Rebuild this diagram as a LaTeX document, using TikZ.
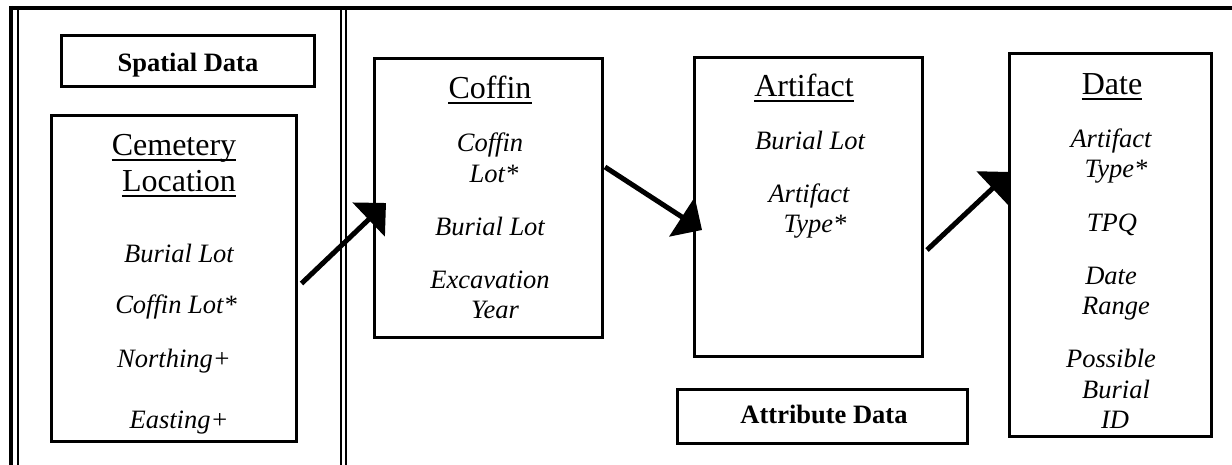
\documentclass[tikz,border=0pt]{standalone}
\usepackage{fontspec}
\setmainfont{Liberation Serif}
\usetikzlibrary{arrows.meta,calc}
\begin{document}
\begin{tikzpicture}[x=1pt,y=-1pt,
  box/.style={draw,line width=3pt,inner sep=0pt},
  it/.style={font=\fontsize{26.5}{30}\selectfont\itshape,inner sep=0pt,anchor=base},
  ttl/.style={font=\fontsize{32}{36}\selectfont,inner sep=0pt,anchor=base},
  bld/.style={font=\fontsize{26.5}{30}\selectfont\bfseries,inner sep=0pt,anchor=base},
  frameline/.style={line width=2pt},
  arr/.style={line width=5pt,-{Triangle[length=24pt,width=46pt]}},
  ul/.style={line width=1.5pt}]
\useasboundingbox (0,0) rectangle (1232,465);
% frame
\draw[line width=4.5pt] (9,8) -- (1232,8);
\draw[line width=4pt] (11,6) -- (11,465);
\draw[frameline] (18.3,10) -- (18.3,465);
\draw[frameline] (341,10) -- (341,465);
\draw[frameline] (346,10) -- (346,465);
% boxes
\node[box,minimum width=253pt,minimum height=51pt] (spatial) at (188,61) {};
\node[box,minimum width=245pt,minimum height=326pt] (cem) at (174,278.5) {};
\node[box,minimum width=228pt,minimum height=279pt] (coffin) at (488.5,198) {};
\node[box,minimum width=228pt,minimum height=298.5pt] (artifact) at (808.5,206.75) {};
\node[box,minimum width=202pt,minimum height=383pt] (date) at (1110.5,245) {};
\node[box,minimum width=290pt,minimum height=54pt] (attrib) at (822.5,416.5) {};
% labels
\node[bld] (tsp) at (188,72) {Spatial Data};
\node[bld] (tat) at (824,423) {Attribute Data};
% titles
\node[ttl] (t1a) at (174,156) {Cemetery};
\node[ttl] (t1b) at (179,192) {Location};
\node[ttl] (t2) at (490,99) {Coffin};
\node[ttl] (t3) at (804,97) {Artifact};
\node[ttl] (t4) at (1112,95) {Date};
\foreach \n in {t1a,t1b,t2,t3,t4}
  \draw[ul] ($(\n.base west)+(0,4)$) -- ($(\n.base east)+(0,4)$);
% cemetery fields
\node[it] (c1) at (179,262) {Burial Lot};
\node[it] (c2) at (176,313) {Coffin Lot*};
\node[it] (c3) at (174,367) {Northing+};
\node[it] (c4) at (179,428) {Easting+};
% coffin fields
\node[it] (f1) at (490,152) {Coffin};
\node[it] (f2) at (494,183) {Lot*};
\node[it] (f3) at (490,236) {Burial Lot};
\node[it] (f4) at (490,288) {Excavation};
\node[it] (f5) at (495,318) {Year};
% artifact fields
\node[it] (a1) at (810,150) {Burial Lot};
\node[it] (a2) at (809,203) {Artifact};
\node[it] (a3) at (815,233) {Type*};
% date fields
\node[it] (d1) at (1111,148) {Artifact};
\node[it] (d2) at (1116,178) {Type*};
\node[it] (d3) at (1112,232) {TPQ};
\node[it] (d4) at (1111,284) {Date};
\node[it] (d5) at (1116,314) {Range};
\node[it] (d6) at (1111,367) {Possible};
\node[it] (d7) at (1116,398) {Burial};
\node[it] (d8) at (1115,428) {ID};
% arrows
\draw[arr] ($(cem.east)+(3.5,5)$) -- ($(coffin.west)+(13,5)$);
\draw[arr] ($(coffin.east)+(1,-31)$) -- ($(artifact.west)+(9,23.25)$);
\draw[arr] ($(artifact.east)+(3,43.25)$) -- ($(date.west)+(2,-73)$);
\end{tikzpicture}
\end{document}
